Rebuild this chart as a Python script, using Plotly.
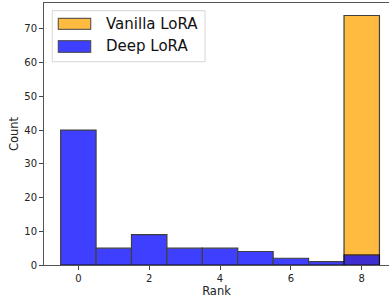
import plotly.graph_objects as go

ranks = [0, 1, 2, 3, 4, 5, 6, 7, 8]
series_names = ["Vanilla LoRA", "Deep LoRA"]
vanilla_counts = [0, 0, 0, 0, 0, 0, 0, 0, 74]
deep_counts = [40, 5, 9, 5, 5, 4, 2, 1, 3]
colors = ["#FFA500", "#0000FF"]
alpha = 0.75

W, H = 389, 302
L, R, T, B = 44, 0, 3, 37
pw, ph = W - L - R, H - T - B


def px(x):
    return (x - L) / pw


def py(y):
    return (H - B - y) / ph


fig = go.Figure()
for name, counts, c in zip(series_names, [vanilla_counts, deep_counts], colors):
    fig.add_trace(go.Bar(x=ranks, y=counts, name=name, width=1, showlegend=False,
                         marker=dict(color=c, line=dict(color="#000000", width=1.2)),
                         opacity=alpha, hoverinfo="skip"))

shapes = [dict(type="rect", xref="paper", yref="paper",
               x0=px(52.3), x1=px(205), y0=py(61.7), y1=py(10.7),
               line=dict(color="#d6d6d6", width=1), fillcolor="rgba(255,255,255,0.8)",
               layer="above")]
annotations = []
patch_rows = [(18.3, 29.3, 24), (40.7, 52.3, 46.5)]
for (y0, y1, yc), name, c in zip(patch_rows, series_names, colors):
    shapes.append(dict(type="rect", xref="paper", yref="paper",
                       x0=px(58.3), x1=px(90.7), y0=py(y1), y1=py(y0),
                       line=dict(color="rgba(0,0,0,0.8)", width=1.2),
                       fillcolor=c, opacity=alpha, layer="above"))
    annotations.append(dict(xref="paper", yref="paper", x=px(104), y=py(yc),
                            xanchor="left", yanchor="middle", showarrow=False,
                            text=name, font=dict(size=15, color="#111")))

fig.update_layout(
    width=W, height=H,
    margin=dict(l=L, r=R, t=T, b=B),
    barmode="overlay",
    plot_bgcolor="white", paper_bgcolor="white",
    font=dict(family="DejaVu Sans", size=10, color="#222"),
    shapes=shapes, annotations=annotations,
    xaxis=dict(range=[-0.97, 8.77], tickvals=[0, 2, 4, 6, 8], ticks="outside", ticklen=4,
               tickcolor="#444",
               showline=True, linecolor="#555", linewidth=1, mirror=True, showgrid=False,
               zeroline=False, title=dict(text="Rank", font=dict(size=11.5), standoff=3)),
    yaxis=dict(range=[0, 77.7], tickvals=[0, 10, 20, 30, 40, 50, 60, 70], ticks="outside",
               ticklen=4, tickcolor="#444",
               showline=True, linecolor="#555", linewidth=1, showgrid=False,
               zeroline=False, title=dict(text="Count", font=dict(size=11.5), standoff=3)),
)
fig.write_html("out.html", config={"displayModeBar": False},
               post_script="document.body.style.margin='0';document.body.style.overflow='hidden';")
